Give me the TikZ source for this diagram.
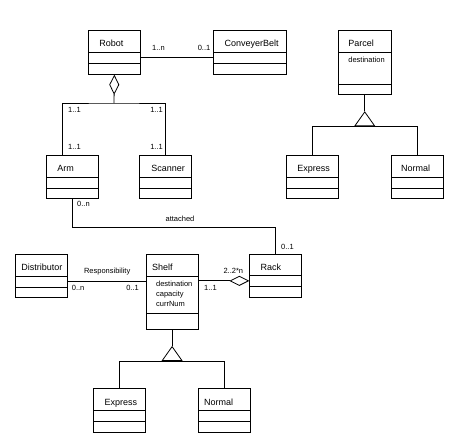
\documentclass[tikz,border=0pt]{standalone}
\usepackage{fontspec}
\setmainfont{Liberation Sans}
\usepackage{tikz}
\usetikzlibrary{positioning}
\usetikzlibrary{shapes.multipart}
\usetikzlibrary{arrows.meta}

\newcommand{\cname}[2][11pt]{\rule[-5pt]{0pt}{21pt}\hspace*{#1}#2}
\newcommand{\cempty}[1][10pt]{\rule{0pt}{#1}}
\newcommand{\attrfont}{\fontsize{7.5}{10}\selectfont}

\begin{document}
\begin{tikzpicture}[x=1pt, y=1pt,
        classbox/.style={rectangle split, rectangle split parts=3, draw, line width=0.8pt, inner sep=0pt, text width=#1, align=left, anchor=north west, font=\fontsize{9}{10}\selectfont},
        classbox/.default=52pt,
        mult/.style={inner sep=0pt, font=\fontsize{7.5}{9}\selectfont},
        link/.style={line width=0.8pt},
        agg/.style={{Diamond[length=20pt,width=10pt,fill=white]}-},
        gen/.style={-{Triangle[length=15pt,width=21pt,fill=white]}}]
        \path[use as bounding box, fill=white] (0,0) rectangle (474,-434);

        \node[classbox]         (robot)     at (88,-30)     {\cname{Robot}\nodepart{two}\cempty\nodepart{three}\cempty[10.5pt]};
        \node[classbox=72.7pt]  (belt)      at (213.3,-30)  {\cname{ConveyerBelt}\nodepart{two}\cempty\nodepart{three}\cempty[10.5pt]};
        \node[classbox]         (arm)       at (46,-155)    {\cname{Arm}\nodepart{two}\cempty\nodepart{three}\cempty};
        \node[classbox]         (scanner)   at (139,-155)   {\cname[12pt]{Scanner}\nodepart{two}\cempty\nodepart{three}\cempty};

        \node[classbox=52.7pt]  (parcel)    at (338,-30)    {\cname[10pt]{Parcel}\nodepart{two}\rule[-21pt]{0pt}{31pt}\hspace*{10pt}{\attrfont destination}\nodepart{three}\cempty};
        \node[classbox]         (pexpress)  at (286,-155)   {\cname{Express}\nodepart{two}\cempty\nodepart{three}\cempty};
        \node[classbox]         (pnormal)   at (390.7,-155) {\cname[10pt]{Normal}\nodepart{two}\cempty\nodepart{three}\cempty};

        \node[classbox]         (distrib)   at (15,-254)    {\cname[6pt]{Distributor}\nodepart{two}\cempty\nodepart{three}\cempty};
        \node[classbox]         (shelf)     at (145.7,-254) {\cname[6pt]{Shelf}\nodepart{two}\attrfont\rule{0pt}{9.5pt}\hspace*{10pt}destination\\\hspace*{10pt}capacity\\\hspace*{10pt}currNum\rule[-6.5pt]{0pt}{0pt}\nodepart{three}\cempty[16pt]};
        \node[classbox]         (rack)      at (249.3,-253.5) {\cname{Rack}\nodepart{two}\cempty\nodepart{three}\cempty[10.5pt]};
        \node[classbox]         (sexpress)  at (93.3,-388.3)  {\cname{Express}\nodepart{two}\cempty\nodepart{three}\cempty[10.5pt]};
        \node[classbox]         (snormal)   at (197.7,-388.3) {\cname[6pt]{Normal}\nodepart{two}\cempty\nodepart{three}\cempty[10.5pt]};

        \coordinate (aggj) at (114,-103);
        \coordinate (attj) at (180,-227.3);
        \coordinate (pgen) at ([yshift=-31pt]parcel.south);
        \coordinate (sgen) at ([yshift=-30.7pt]shelf.south);

        \draw[link] ([yshift=-5pt]robot.east) -- ([yshift=-5pt]belt.west);
        \node[mult, anchor=base west] (robotm)  at (152,-50.5)   {1..n};
        \node[mult, anchor=base east] (beltm)   at (210.5,-50.5) {0..1};

        \draw[link, agg] (robot.south) -- (aggj);
        \draw[link] ([xshift=-10pt]arm.north) |- (aggj) -| (scanner.north);
        \node[mult, anchor=base west] (armup)   at (68,-112.7)  {1..1};
        \node[mult, anchor=base west] (armlo)   at (68,-149.4)  {1..1};
        \node[mult, anchor=base east] (scanup)  at (163,-112.7) {1..1};
        \node[mult, anchor=base east] (scanlo)  at (163,-149.4) {1..1};

        \draw[link] (arm.south) |- (attj) -| (rack.north);
        \node[mult, anchor=base west] (armm)    at (77,-206.7)  {0..n};
        \node[mult, anchor=base]      (attl)    at (180,-221.5) {attached};
        \node[mult, anchor=base west] (rackm)   at (281,-249.4) {0..1};

        \draw[link] ([yshift=-5pt]distrib.east) -- ([yshift=-5pt]distrib.east -| shelf.west);
        \node[mult, anchor=base]      (respl)   at (107.2,-273.3) {Responsibility};
        \node[mult, anchor=base west] (distm)   at (71.7,-290.5)  {0..n};
        \node[mult, anchor=base east] (shelfm)  at (139,-290.5)   {0..1};

        \draw[link, agg] ([yshift=-5pt]rack.west) -- ([yshift=-5pt]rack.west -| shelf.east);
        \node[mult, anchor=base west] (rackagg) at (223.3,-273.3) {2..2*n};
        \node[mult, anchor=base west] (shelfr)  at (204,-290.5)   {1..1};

        \draw[link] (parcel.south) -- ([yshift=15pt]pgen);
        \draw[link, gen] (pgen) -- ([yshift=15pt]pgen);
        \draw[link] (pexpress.north) |- (pgen) -| (pnormal.north);

        \draw[link] (shelf.south) -- ([yshift=15pt]sgen);
        \draw[link, gen] (sgen) -- ([yshift=15pt]sgen);
        \draw[link] (sexpress.north) |- (sgen) -| (snormal.north);
    \end{tikzpicture}
\end{document}
